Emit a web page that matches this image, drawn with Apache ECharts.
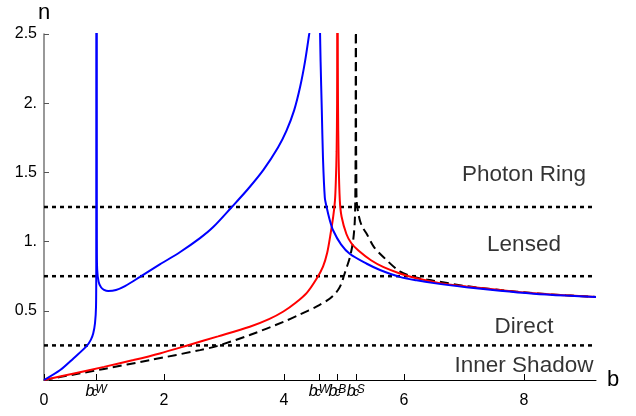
<!DOCTYPE html>
<html>
<head>
<meta charset="utf-8">
<script src="https://cdn.jsdelivr.net/npm/echarts@6/dist/echarts.min.js"></script>
<style>
  html, body { margin: 0; padding: 0; background: #fff; }
  #main { width: 636px; height: 416px; }
</style>
</head>
<body>
<div id="main"></div>
<script>
// data: [b, n]
var blueLeft = [[0,0],[0.27,0.072],[0.49,0.156],[0.71,0.245],[0.78,0.29],[0.82,0.336],[0.85,0.41],[0.867,0.53],[0.871,0.8],[0.873,1.3],[0.874,2.0],[0.875,2.6]];
var blueMid = [[0.877,2.6],[0.878,1.6],[0.88,1.0],[0.886,0.8],[0.91,0.71],[0.95,0.67],[1.0,0.652],[1.07,0.643],[1.2,0.65],[1.35,0.678],[1.6,0.745],[1.93,0.835],[2.27,0.925],[2.6,1.025],[2.82,1.105],[3.13,1.25],[3.4,1.38],[3.66,1.52],[3.9,1.68],[4.04,1.8],[4.17,1.95],[4.27,2.12],[4.35,2.3],[4.42,2.5],[4.46,2.62]];
var blueRight = [[4.597,2.6],[4.61,2.3],[4.63,1.95],[4.65,1.6],[4.68,1.32],[4.71,1.25],[4.76,1.16],[4.82,1.08],[4.95,0.98],[5.1,0.91],[5.38,0.84],[5.6,0.795],[5.93,0.745],[6.21,0.72],[6.5,0.7],[7.04,0.671],[7.6,0.645],[8.16,0.624],[8.7,0.61],[9.2,0.6]];

var redLeft = [[0,0],[0.5,0.047],[1.0,0.095],[1.49,0.144],[1.93,0.192],[2.43,0.255],[2.9,0.315],[3.43,0.385],[3.75,0.44],[3.99,0.495],[4.2,0.56],[4.38,0.63],[4.54,0.73],[4.65,0.82],[4.72,0.92],[4.77,1.04],[4.82,1.18],[4.85,1.3],[4.865,1.45],[4.877,1.65],[4.885,2.0],[4.889,2.6]];
var redRight = [[4.893,2.6],[4.9,2.0],[4.91,1.6],[4.93,1.3],[4.96,1.18],[5.04,1.055],[5.12,0.99],[5.24,0.935],[5.45,0.865],[5.66,0.815],[5.93,0.77],[6.21,0.735],[6.6,0.7],[7.04,0.676],[7.6,0.65],[8.16,0.627],[8.7,0.612],[9.2,0.6]];

var schwLeft = [[0,0],[0.5,0.04],[1.0,0.08],[1.77,0.144],[2.6,0.216],[2.88,0.245],[3.43,0.325],[3.99,0.42],[4.27,0.475],[4.54,0.53],[4.72,0.575],[4.82,0.61],[4.9,0.65],[4.96,0.7],[5.0,0.755],[5.05,0.82],[5.1,0.89],[5.15,1.0],[5.18,1.15],[5.19,1.4],[5.194,1.8],[5.196,2.6]];
var schwRight = [[5.2,2.6],[5.201,1.8],[5.205,1.5],[5.21,1.3],[5.25,1.18],[5.3,1.11],[5.38,1.055],[5.5,0.96],[5.66,0.887],[5.93,0.785],[6.2,0.74],[6.49,0.718],[7.04,0.678],[7.6,0.65],[8.16,0.627],[8.7,0.612],[9.2,0.6]];

var boundaries = [0.25, 0.75, 1.25];
var regionNames = ['Photon Ring', 'Lensed', 'Direct', 'Inner Shadow'];
var regionX = [8, 8, 8, 8];
var regionY = [1.485, 0.975, 0.385, 0.1];

var xTicks = [0, 2, 4, 6, 8];
var bTicks = [0.87, 4.59, 4.89, 5.196];
var bSup = ['W', 'W', 'B', 'S'];
var yTicks = [0.5, 1, 1.5, 2, 2.5];

var font = 'Liberation Sans, Arial, sans-serif';
var xMax = 9.2;

var myChart = echarts.init(document.getElementById('main'));

function curve(data, color, type) {
    return {
        type: 'line',
        data: data,
        showSymbol: false,
        symbol: 'none',
        smooth: 0.3,
        lineStyle: { color: color, width: 2, type: type || 'solid' },
        z: 3
    };
}

var series = [
    curve(schwLeft, '#000', [9, 5]),
    curve(schwRight, '#000', [9, 5]),
    curve(redLeft, '#ff0000'),
    curve(redRight, '#ff0000'),
    curve(blueLeft, '#0000ff'),
    curve(blueMid, '#0000ff'),
    curve(blueRight, '#0000ff')
];

boundaries.forEach(function (y) {
    series.push({
        type: 'line',
        data: [[0, y], [xMax, y]],
        showSymbol: false,
        symbol: 'none',
        lineStyle: { color: '#000', width: 2.5, type: [4, 4] },
        z: 2
    });
});

series.push({
    type: 'scatter',
    symbolSize: 0,
    data: regionNames.map(function (name, i) { return [regionX[i], regionY[i], name]; }),
    label: {
        show: true,
        position: 'inside',
        formatter: function (p) { return p.data[2]; },
        fontFamily: font,
        fontSize: 22.5,
        color: '#000'
    },
    z: 4
});

var option = {
    backgroundColor: '#fff',
    animation: false,
    grid: { left: 44, right: 40, top: 34, bottom: 36 },
    xAxis: [{
        type: 'value',
        min: 0,
        max: xMax,
        name: 'b',
        nameLocation: 'end',
        nameGap: 11,
        nameTextStyle: { fontFamily: font, fontSize: 22, color: '#000' },
        axisLine: { lineStyle: { color: '#000', width: 1 } },
        axisTick: { inside: true, length: 6, customValues: xTicks.concat(bTicks), lineStyle: { color: '#000' } },
        axisLabel: { customValues: xTicks, margin: 13, fontFamily: font, fontSize: 16, color: '#000' },
        splitLine: { show: false }
    }, {
        type: 'value',
        min: 0,
        max: xMax,
        position: 'bottom',
        axisLine: { show: false },
        axisTick: { show: false },
        splitLine: { show: false },
        axisLabel: {
            customValues: bTicks,
            margin: 4,
            formatter: function (v) {
                var i = 0;
                bTicks.forEach(function (t, k) { if (Math.abs(t - v) < Math.abs(bTicks[i] - v)) { i = k; } });
                return '{b|b}{c|c}{s|' + bSup[i] + '}';
            },
            rich: {
                b: { fontFamily: font, fontStyle: 'italic', fontSize: 16, lineHeight: 15, verticalAlign: 'top', color: '#000' },
                c: { fontFamily: font, fontStyle: 'italic', fontSize: 12, lineHeight: 11, verticalAlign: 'bottom', width: 1, color: '#000' },
                s: { fontFamily: font, fontStyle: 'italic', fontSize: 12, lineHeight: 11, verticalAlign: 'top', color: '#000' }
            }
        }
    }],
    yAxis: {
        type: 'value',
        min: 0,
        max: 2.5,
        interval: 0.5,
        name: 'n',
        nameLocation: 'end',
        nameGap: 10,
        nameTextStyle: { fontFamily: font, fontSize: 22, color: '#000' },
        axisLine: { show: true, lineStyle: { color: '#7f7f7f', width: 1.6 } },
        axisTick: { show: true, inside: true, length: 5, lineStyle: { color: '#555' } },
        axisLabel: {
            customValues: yTicks,
            margin: 7,
            fontFamily: font,
            fontSize: 16,
            color: '#000',
            formatter: function (v) { return Number.isInteger(v) ? v + '.' : String(v); }
        },
        splitLine: { show: false }
    },
    series: series
};

myChart.setOption(option);
</script>
</body>
</html>
